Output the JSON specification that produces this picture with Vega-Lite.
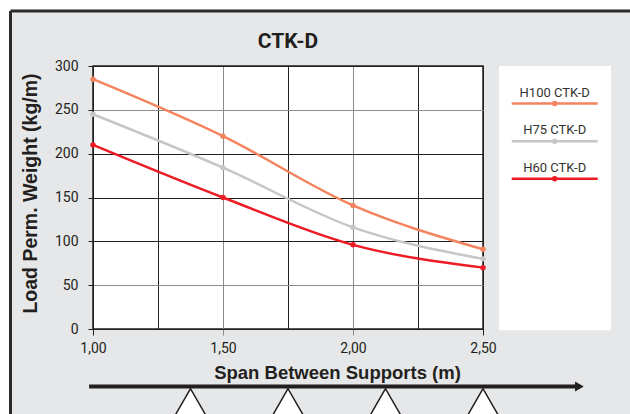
{
  "$schema": "https://vega.github.io/schema/vega-lite/v6.json",
  "width": 390,
  "height": 263,
  "autosize": {"type": "none"},
  "padding": {"left": 93, "top": 66, "right": 147, "bottom": 85},
  "background": "#e6e7e8",
  "title": {"text": "CTK-D", "anchor": "middle", "frame": "group", "font": "Roboto", "fontSize": 21, "fontWeight": "bold", "color": "#231f20", "baseline": "alphabetic", "offset": -73},
  "config": {
    "view": {"fill": "white", "stroke": "#231f20", "strokeWidth": 1.5}
  },
  "datasets": {
    "loads": [
      {"series": "H100 CTK-D", "span": 1.0, "load": 285},
      {"series": "H100 CTK-D", "span": 1.5, "load": 220},
      {"series": "H100 CTK-D", "span": 2.0, "load": 141},
      {"series": "H100 CTK-D", "span": 2.5, "load": 91},
      {"series": "H75 CTK-D", "span": 1.0, "load": 245},
      {"series": "H75 CTK-D", "span": 1.5, "load": 184},
      {"series": "H75 CTK-D", "span": 2.0, "load": 116},
      {"series": "H75 CTK-D", "span": 2.5, "load": 80},
      {"series": "H60 CTK-D", "span": 1.0, "load": 210},
      {"series": "H60 CTK-D", "span": 1.5, "load": 150},
      {"series": "H60 CTK-D", "span": 2.0, "load": 96},
      {"series": "H60 CTK-D", "span": 2.5, "load": 70}
    ],
    "legendItems": [
      {"series": "H100 CTK-D", "rank": 1},
      {"series": "H75 CTK-D", "rank": 2},
      {"series": "H60 CTK-D", "rank": 3}
    ],
    "supports": [
      {"support": "S1", "span": 1.375},
      {"support": "S2", "span": 1.75},
      {"support": "S3", "span": 2.125},
      {"support": "S4", "span": 2.5}
    ],
    "blank": [{}]
  },
  "resolve": {"scale": {"y": "independent"}},
  "layer": [
    {
      "layer": [
        {
          "data": {"name": "loads"},
          "mark": {"type": "line", "interpolate": "monotone", "strokeWidth": 2.5, "point": {"filled": true, "size": 30}},
          "encoding": {
            "x": {
              "field": "span", "type": "quantitative",
              "scale": {"domain": [1, 2.5], "nice": false},
              "axis": {
                "title": "Span Between Supports (m)",
                "values": [1, 1.25, 1.5, 1.75, 2, 2.25, 2.5],
                "grid": true,
                "gridColor": {"condition": {"test": "datum.value == 1.5 || datum.value == 2", "value": "#8c8c8c"}, "value": "#231f20"},
                "gridWidth": 1,
                "tickColor": {"condition": {"test": "datum.value == 1.5 || datum.value == 2", "value": "#8c8c8c"}, "value": "#231f20"},
                "tickOpacity": {"condition": {"test": "datum.value == 1.25 || datum.value == 1.75 || datum.value == 2.25", "value": 0}, "value": 1},
                "tickSize": 6,
                "domainColor": "#231f20",
                "labelExpr": "datum.value % 0.5 === 0 ? replace(format(datum.value, '.2f'), '.', ',') : ''",
                "labelFont": "Roboto",
                "labelFontSize": 14,
                "labelColor": "#231f20",
                "labelPadding": 6,
                "labelFlush": false,
                "labelOverlap": false,
                "titleFont": "Liberation Sans",
                "titleFontSize": 18.5,
                "titleFontWeight": "bold",
                "titleColor": "#231f20",
                "titleX": 244,
                "titleY": 49,
                "titleBaseline": "alphabetic",
                "titleAlign": "center"
              }
            },
            "y": {
              "field": "load", "type": "quantitative",
              "scale": {"domain": [0, 300], "nice": false},
              "axis": {
                "title": "Load Perm. Weight (kg/m)",
                "values": [0, 25, 50, 75, 100, 125, 150, 175, 200, 225, 250, 275, 300],
                "grid": true,
                "gridColor": {"condition": {"test": "datum.value == 50 || datum.value == 250", "value": "#8c8c8c"}, "value": "#231f20"},
                "gridWidth": 1,
                "tickColor": "#231f20",
                "tickSize": 5,
                "domainColor": "#231f20",
                "labelExpr": "datum.value % 50 === 0 ? datum.label : ''",
                "labelFont": "Roboto",
                "labelFontSize": 14,
                "labelColor": "#231f20",
                "labelPadding": 10,
                "labelFlush": false,
                "labelOverlap": false,
                "titleFont": "Liberation Sans",
                "titleFontSize": 19.5,
                "titleFontWeight": "bold",
                "titleColor": "#231f20",
                "titleX": -57,
                "titleY": 127,
                "titleBaseline": "alphabetic",
                "titleAlign": "center",
                "titleAngle": -90
              }
            },
            "color": {
              "field": "series", "type": "nominal",
              "scale": {"domain": ["H100 CTK-D", "H75 CTK-D", "H60 CTK-D"], "range": ["#f4845f", "#c6c6c6", "#ed1c24"]},
              "legend": null
            }
          }
        },
        {
          "data": {"name": "blank"},
          "mark": {"type": "rect", "fill": "white"},
          "encoding": {
            "x": {"datum": -2, "type": "quantitative", "scale": {"domain": [1, 2.5], "nice": false}},
            "x2": {"datum": 0.6827},
            "y": {"datum": 380, "type": "quantitative", "scale": {"domain": [0, 300], "nice": false}},
            "y2": {"datum": -300}
          }
        },
        {
          "data": {"name": "blank"},
          "mark": {"type": "rect", "fill": "white"},
          "encoding": {
            "x": {"datum": -2, "type": "quantitative", "scale": {"domain": [1, 2.5], "nice": false}},
            "x2": {"datum": 5},
            "y": {"datum": 380, "type": "quantitative", "scale": {"domain": [0, 300], "nice": false}},
            "y2": {"datum": 362.7}
          }
        },
        {
          "data": {"name": "blank"},
          "mark": {"type": "rule", "color": "#2b2b2b", "strokeWidth": 3},
          "encoding": {
            "x": {"datum": 0.6827, "type": "quantitative", "scale": {"domain": [1, 2.5], "nice": false}},
            "y": {"datum": 362.7, "type": "quantitative", "scale": {"domain": [0, 300], "nice": false}},
            "y2": {"datum": -300}
          }
        },
        {
          "data": {"name": "blank"},
          "mark": {"type": "rule", "color": "#2b2b2b", "strokeWidth": 3},
          "encoding": {
            "x": {"datum": 0.6827, "type": "quantitative", "scale": {"domain": [1, 2.5], "nice": false}},
            "x2": {"datum": 5},
            "y": {"datum": 362.7, "type": "quantitative", "scale": {"domain": [0, 300], "nice": false}}
          }
        },
        {
          "data": {"name": "blank"},
          "mark": {"type": "rule", "color": "#231f20", "strokeWidth": 4},
          "encoding": {
            "x": {"datum": 0.985, "type": "quantitative", "scale": {"domain": [1, 2.5], "nice": false}},
            "x2": {"datum": 2.8708},
            "y": {"datum": -65.5, "type": "quantitative", "scale": {"domain": [0, 300], "nice": false}}
          }
        },
        {
          "data": {"name": "blank"},
          "mark": {"type": "point", "shape": "triangle-right", "size": 100, "filled": true, "color": "#231f20", "opacity": 1},
          "encoding": {
            "x": {"datum": 2.8708, "type": "quantitative", "scale": {"domain": [1, 2.5], "nice": false}},
            "y": {"datum": -65.5, "type": "quantitative", "scale": {"domain": [0, 300], "nice": false}}
          }
        },
        {
          "data": {"name": "supports"},
          "mark": {"type": "point", "shape": "triangle-up", "size": 1296, "filled": true, "fill": "white", "stroke": "#231f20", "strokeWidth": 1.5, "opacity": 1, "fillOpacity": 1},
          "encoding": {
            "x": {"field": "span", "type": "quantitative", "scale": {"domain": [1, 2.5], "nice": false}},
            "y": {"datum": -85.9, "type": "quantitative", "scale": {"domain": [0, 300], "nice": false}}
          }
        }
      ]
    },
    {
      "layer": [
        {
          "data": {"name": "blank"},
          "mark": {"type": "rect", "fill": "white"},
          "encoding": {
            "x": {"datum": 2.5615, "type": "quantitative", "scale": {"domain": [1, 2.5], "nice": false}},
            "x2": {"datum": 2.9923},
            "y": {"datum": 0, "type": "quantitative", "scale": {"domain": [0, 7], "nice": false, "reverse": true}, "axis": null},
            "y2": {"datum": 7.03}
          }
        },
        {
          "data": {"name": "legendItems"},
          "mark": {"type": "rule", "strokeWidth": 2.5},
          "encoding": {
            "x": {"datum": 2.6104, "type": "quantitative", "scale": {"domain": [1, 2.5], "nice": false}},
            "x2": {"datum": 2.9412},
            "y": {"field": "rank", "type": "quantitative", "scale": {"domain": [0, 7], "nice": false, "reverse": true}, "axis": null},
            "color": {"field": "series", "type": "nominal", "legend": null}
          }
        },
        {
          "data": {"name": "legendItems"},
          "mark": {"type": "point", "filled": true, "size": 30, "opacity": 1},
          "encoding": {
            "x": {"datum": 2.7758, "type": "quantitative", "scale": {"domain": [1, 2.5], "nice": false}},
            "y": {"field": "rank", "type": "quantitative", "scale": {"domain": [0, 7], "nice": false, "reverse": true}, "axis": null},
            "color": {"field": "series", "type": "nominal", "legend": null}
          }
        },
        {
          "data": {"name": "legendItems"},
          "mark": {"type": "text", "font": "Roboto", "fontSize": 13, "color": "#333333", "baseline": "alphabetic", "align": "center", "dy": -7},
          "encoding": {
            "x": {"datum": 2.7758, "type": "quantitative", "scale": {"domain": [1, 2.5], "nice": false}},
            "y": {"field": "rank", "type": "quantitative", "scale": {"domain": [0, 7], "nice": false, "reverse": true}, "axis": null},
            "text": {"field": "series", "type": "nominal"}
          }
        }
      ]
    }
  ]
}
